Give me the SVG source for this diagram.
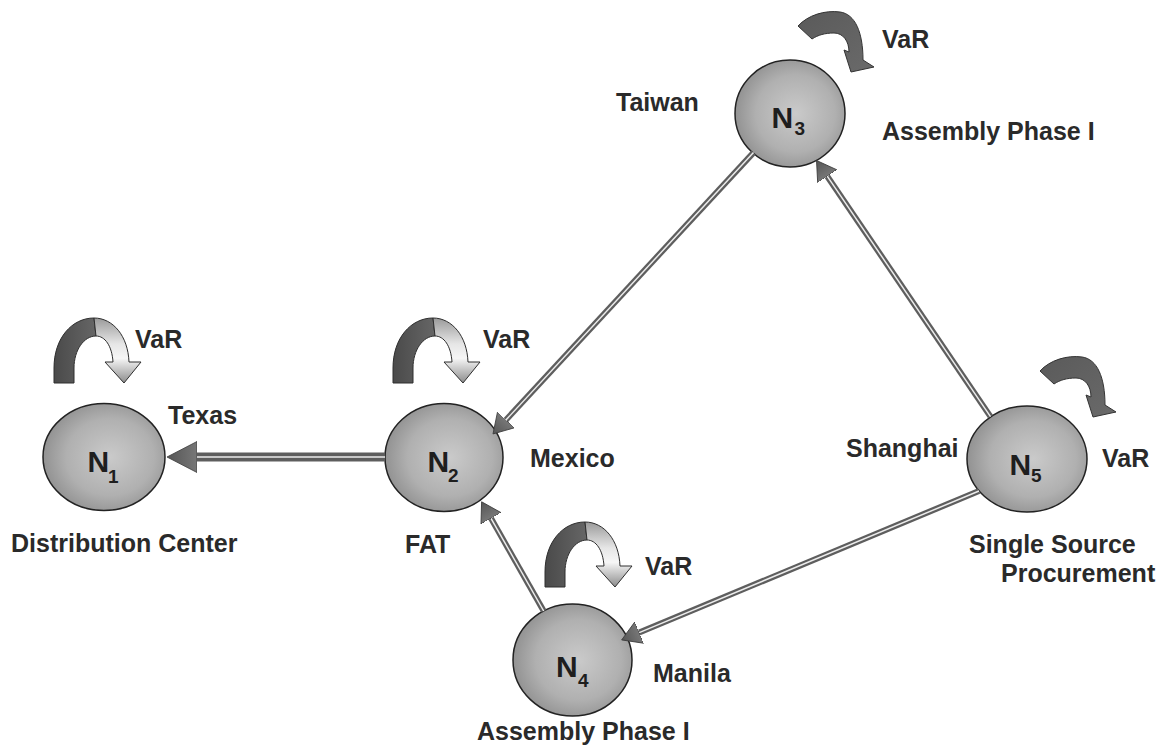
<svg xmlns="http://www.w3.org/2000/svg" width="1160" height="753" viewBox="0 0 1160 753">
  <style>
    .lbl { font-family: "Liberation Sans", Arial, Helvetica, sans-serif; font-weight: bold; font-size: 25px; fill: #2a2a2a; }
    .nn { font-family: "Liberation Sans", Arial, Helvetica, sans-serif; font-weight: bold; font-size: 30px; fill: #1e1e1e; }
    .ns { font-family: "Liberation Sans", Arial, Helvetica, sans-serif; font-weight: bold; font-size: 19px; fill: #1e1e1e; }
    .node { fill: url(#ballFill); stroke: #222; stroke-width: 1.5; }
    .band { fill: none; stroke: #5e5e5e; stroke-linecap: butt; }
    .core { fill: none; stroke: #ececec; stroke-width: 1.5; }
    .archDark { fill: url(#archDarkFill); stroke: #2e2e2e; stroke-width: 1; stroke-linejoin: round; }
    .archLight { fill: url(#archLightFill); stroke: #2e2e2e; stroke-width: 1; stroke-linejoin: round; }
    .curl { fill: url(#curlFill); stroke: #333; stroke-width: 1; stroke-linejoin: round; }
  </style>
  <defs>
    <radialGradient id="ballFill" cx="0.55" cy="0.5" r="0.6">
      <stop offset="0" stop-color="#cacaca"/>
      <stop offset="0.6" stop-color="#b0b0b0"/>
      <stop offset="1" stop-color="#8a8a8a"/>
    </radialGradient>
    <linearGradient id="archDarkFill" x1="0" y1="0" x2="1" y2="0">
      <stop offset="0" stop-color="#4a4a4a"/>
      <stop offset="1" stop-color="#666"/>
    </linearGradient>
    <linearGradient id="archLightFill" x1="0" y1="0" x2="0" y2="1">
      <stop offset="0" stop-color="#9a9a9a"/>
      <stop offset="0.4" stop-color="#e6e6e6"/>
      <stop offset="0.62" stop-color="#f6f6f6"/>
      <stop offset="1" stop-color="#8c8c8c"/>
    </linearGradient>
    <linearGradient id="curlFill" x1="0" y1="0" x2="1" y2="1">
      <stop offset="0" stop-color="#5a5a5a"/>
      <stop offset="1" stop-color="#6a6a6a"/>
    </linearGradient>
    <linearGradient id="headFill" x1="0" y1="0" x2="1" y2="0">
      <stop offset="0" stop-color="#777"/>
      <stop offset="1" stop-color="#555"/>
    </linearGradient>
    <marker id="headBig" markerUnits="userSpaceOnUse" orient="auto" viewBox="0 -16 31 32" markerWidth="31" markerHeight="32" refX="0" refY="0">
      <path d="M0,-15.5 L30,0 L0,15.5 Z" fill="url(#headFill)" stroke="#3a3a3a" stroke-width="0.8"/>
    </marker>
    <marker id="headSmall" markerUnits="userSpaceOnUse" orient="auto" viewBox="0 -12 20 24" markerWidth="20" markerHeight="24" refX="0" refY="0">
      <path d="M0,-11.5 L19,0 L0,11.5 Z" fill="url(#headFill)" stroke="#3a3a3a" stroke-width="0.8"/>
    </marker>
    <!-- arched VaR arrow: dark back leg on the left, light front leg with head on the right -->
    <g id="arch">
      <path class="archDark" d="M0,0 L0,-15 C0,-45 18,-65 40,-65 L42,-47 C30,-47 20,-33 20,-15 L20,0 Z"/>
      <path class="archLight" d="M40,-65 C59,-65 74,-47 75,-21 L87,-21 L70,0 L51,-21 L59,-21 C58,-37 51,-47 42,-47 Z"/>
    </g>
    <!-- dark clockwise VaR curl -->
    <path id="curl" class="curl" d="M0,0 C10,-11 27,-16 42,-14 C57,-12 65,6 65,34 L76,41 L53,46 L46,24 L51,26 C51,15 45,7 36,7 C27,7 20,9 14,13 Z"/>
  </defs>

  <rect width="1160" height="753" fill="#fff"/>

  <!-- nodes -->
  <g id="n1">
    <ellipse class="node" cx="104" cy="457" rx="61" ry="53.5"/>
    <text class="nn" x="87.5" y="472">N</text>
    <text class="ns" x="108" y="483">1</text>
    <use href="#arch" transform="translate(54,383)"/>
    <text class="lbl" x="135" y="348">VaR</text>
    <text class="lbl" x="168" y="424">Texas</text>
    <text class="lbl" x="11" y="552">Distribution Center</text>
  </g>

  <g id="n2">
    <ellipse class="node" cx="444" cy="457.5" rx="59" ry="54"/>
    <text class="nn" x="427.5" y="472">N</text>
    <text class="ns" x="448" y="482">2</text>
    <use href="#arch" transform="translate(393,383)"/>
    <text class="lbl" x="483" y="348">VaR</text>
    <text class="lbl" x="530" y="467">Mexico</text>
    <text class="lbl" x="405" y="553">FAT</text>
  </g>

  <g id="n3">
    <ellipse class="node" cx="790" cy="113.5" rx="55" ry="53.5"/>
    <text class="nn" x="771.5" y="128">N</text>
    <text class="ns" x="794.5" y="135">3</text>
    <use href="#curl" transform="translate(798,26)"/>
    <text class="lbl" x="882" y="48">VaR</text>
    <text class="lbl" x="616" y="111">Taiwan</text>
    <text class="lbl" x="882" y="140">Assembly Phase I</text>
  </g>

  <g id="n4">
    <ellipse class="node" cx="572.5" cy="660" rx="59.5" ry="56"/>
    <text class="nn" x="556" y="677">N</text>
    <text class="ns" x="578" y="687">4</text>
    <use href="#arch" transform="translate(545,587)"/>
    <text class="lbl" x="645" y="575">VaR</text>
    <text class="lbl" x="653" y="682">Manila</text>
    <text class="lbl" x="477" y="740">Assembly Phase I</text>
  </g>

  <g id="n5">
    <ellipse class="node" cx="1027" cy="459" rx="60" ry="53"/>
    <text class="nn" x="1009.5" y="475">N</text>
    <text class="ns" x="1031" y="482">5</text>
    <use href="#curl" transform="translate(1040,371)"/>
    <text class="lbl" x="1102" y="467">VaR</text>
    <text class="lbl" x="846" y="457">Shanghai</text>
    <text class="lbl" x="969" y="553">Single Source</text>
    <text class="lbl" x="1001" y="582">Procurement</text>
  </g>

  <!-- connectors: gray band with a pale core line, head on the core -->
  <g id="connectors">
    <line class="band" x1="385" y1="457" x2="197" y2="457" stroke-width="9"/>
    <line class="core" x1="385" y1="457" x2="197" y2="457" marker-end="url(#headBig)"/>

    <line class="band" x1="753.5" y1="152.6" x2="505.9" y2="420" stroke-width="6"/>
    <line class="core" x1="753.5" y1="152.6" x2="505.9" y2="420" marker-end="url(#headSmall)"/>

    <line class="band" x1="990.5" y1="416.6" x2="827.2" y2="176.2" stroke-width="6"/>
    <line class="core" x1="990.5" y1="416.6" x2="827.2" y2="176.2" marker-end="url(#headSmall)"/>

    <line class="band" x1="979" y1="491" x2="639.2" y2="632.6" stroke-width="6"/>
    <line class="core" x1="979" y1="491" x2="639.2" y2="632.6" marker-end="url(#headSmall)"/>

    <line class="band" x1="543.7" y1="611" x2="491" y2="518.3" stroke-width="6"/>
    <line class="core" x1="543.7" y1="611" x2="491" y2="518.3" marker-end="url(#headSmall)"/>
  </g>
</svg>
